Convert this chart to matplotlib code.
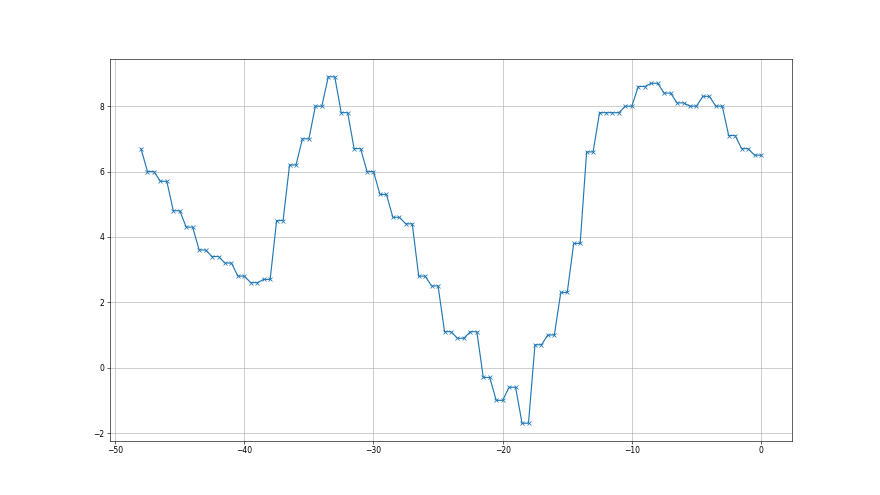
import matplotlib
matplotlib.use("Agg")
import matplotlib.pyplot as plt

# first reading at -48, then pairs of equal readings every half unit
first_x = -48.0
first_y = 6.7
pair_values = [
    6.0, 5.7, 4.8, 4.3, 3.6, 3.4, 3.2, 2.8, 2.6, 2.7,
    4.5, 6.2, 7.0, 8.0, 8.9, 7.8, 6.7, 6.0, 5.3, 4.6,
    4.4, 2.8, 2.5, 1.1, 0.9, 1.1, -0.3, -1.0, -0.6, -1.7,
    0.7, 1.0, 2.3, 3.8, 6.6, 7.8, 7.8, 8.0, 8.6, 8.7,
    8.4, 8.1, 8.0, 8.3, 8.0, 7.1, 6.7, 6.5,
]
pair_ends = list(range(-47, 1))

x = [first_x]
y = [first_y]
for end, val in zip(pair_ends, pair_values):
    x += [end - 0.5, end]
    y += [val, val]

fig, ax = plt.subplots(figsize=(16, 9), dpi=55)
ax.plot(x, y, marker='x', color='tab:blue')
ax.grid(True)
fig.savefig("out.png", dpi=55)
